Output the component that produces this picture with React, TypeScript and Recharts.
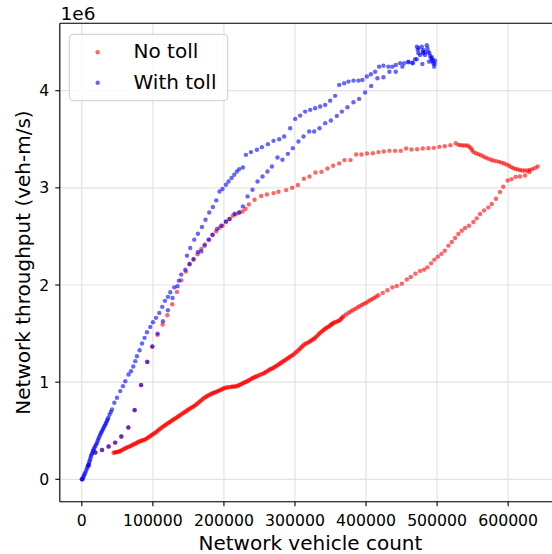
import React from 'react';
import { ScatterChart, Scatter, XAxis, YAxis, CartesianGrid } from 'recharts';

// x: network vehicle count, y: network throughput in units of 1e6 veh-m/s
const X_TICKS = [0, 100000, 200000, 300000, 400000, 500000, 600000];
const Y_TICKS = [0, 1, 2, 3, 4];

const NO_TOLL: [number, number][] = [
  // loading
  [0, 0], [9600, 0.144], [19000, 0.276], [28400, 0.301], [37700, 0.337], [46900, 0.378],
  [55600, 0.44], [65500, 0.533], [74300, 0.711], [83400, 0.969], [92100, 1.206], [99200, 1.365],
  [106600, 1.487], [113700, 1.593], [120300, 1.689], [127300, 1.802], [133900, 1.929], [140000, 2.048],
  [146500, 2.138], [151700, 2.213], [157300, 2.261], [162900, 2.316], [168100, 2.371], [173200, 2.418],
  [179300, 2.467], [184000, 2.515], [189200, 2.552], [193800, 2.59], [198100, 2.61], [202800, 2.648],
  [207900, 2.679], [212600, 2.713], [216800, 2.727], [221500, 2.747], [226200, 2.757], [230400, 2.782],
  [235100, 2.829], [243100, 2.878], [252500, 2.916], [260500, 2.932], [269800, 2.946], [276800, 2.96],
  [287600, 2.977], [296100, 3.001], [304100, 3.029], [312500, 3.094], [320400, 3.117], [328800, 3.158],
  [337300, 3.165], [345700, 3.199], [353700, 3.227], [362200, 3.251], [369600, 3.286], [378100, 3.286],
  [386100, 3.343], [393500, 3.343], [401500, 3.354], [409600, 3.357], [417500, 3.368], [425000, 3.375],
  [432900, 3.381], [440900, 3.381], [448900, 3.381], [456400, 3.405], [463900, 3.395], [471900, 3.398],
  [479900, 3.405], [487800, 3.409], [495400, 3.412], [503200, 3.422], [510800, 3.429], [518700, 3.439],
  [526300, 3.46],
  // congested
  [530000, 3.443], [533000, 3.44], [536100, 3.436], [539300, 3.437], [542600, 3.436], [545000, 3.425],
  [547400, 3.409], [549300, 3.39], [551100, 3.368], [554600, 3.356], [558100, 3.347], [561600, 3.335],
  [565100, 3.323], [568600, 3.311], [572200, 3.299], [575700, 3.29], [579200, 3.282], [583200, 3.275],
  [587200, 3.268], [590700, 3.26], [594200, 3.251], [597800, 3.24], [601300, 3.227], [604300, 3.214],
  [607300, 3.203], [610400, 3.195], [613500, 3.189], [616800, 3.183], [620000, 3.179], [623500, 3.178],
  [627000, 3.179], [630500, 3.185], [634000, 3.193], [637800, 3.205], [641600, 3.22],
  // unloading
  [629800, 3.162], [623800, 3.127], [616700, 3.117], [610700, 3.114], [605000, 3.09], [599400, 3.076],
  [593200, 3.011], [588600, 2.957], [582900, 2.888], [576900, 2.834], [572200, 2.799], [566100, 2.768],
  [560500, 2.731], [555800, 2.686], [551100, 2.648], [545000, 2.61], [539400, 2.587], [534700, 2.559],
  [530000, 2.525], [525300, 2.484], [520700, 2.443], [516000, 2.405], [510800, 2.353], [506000, 2.32],
  [501000, 2.292], [496200, 2.261], [491600, 2.223], [486400, 2.182], [481700, 2.158], [476100, 2.145],
  [469500, 2.117], [463000, 2.083], [457400, 2.056], [450400, 2.014], [443300, 1.991], [437100, 1.976],
  [430100, 1.946], [423600, 1.919], [417400, 1.894], [414400, 1.881], [411400, 1.867], [408600, 1.855],
  [405800, 1.843], [402800, 1.83], [399700, 1.816], [396900, 1.806], [394100, 1.795], [391000, 1.782],
  [387900, 1.768], [384700, 1.754], [381400, 1.74], [378400, 1.727], [375300, 1.713], [371800, 1.696],
  [368200, 1.678], [366800, 1.667], [365400, 1.656], [364000, 1.645], [362600, 1.634], [360500, 1.628],
  [358400, 1.622], [356300, 1.616], [354200, 1.61], [353000, 1.603], [351800, 1.597], [350600, 1.59],
  [349500, 1.583], [347700, 1.574], [346000, 1.566], [344200, 1.557], [342500, 1.549], [340700, 1.539],
  [339000, 1.529], [337200, 1.518], [335400, 1.508], [333600, 1.495], [331900, 1.482], [330100, 1.469],
  [328400, 1.456], [326600, 1.447], [324900, 1.439], [323100, 1.43], [321400, 1.421], [319300, 1.412],
  [317200, 1.404], [315100, 1.395], [313000, 1.387], [311200, 1.374], [309400, 1.362], [307600, 1.349],
  [305900, 1.336], [303900, 1.323], [301900, 1.31], [299900, 1.297], [297900, 1.285], [296100, 1.276],
  [294400, 1.268], [292600, 1.259], [290900, 1.251], [289100, 1.242], [287300, 1.233], [285500, 1.224],
  [283800, 1.216], [282000, 1.207], [280300, 1.199], [278500, 1.19], [276800, 1.182], [275000, 1.173],
  [273300, 1.165], [271500, 1.156], [269800, 1.148], [268000, 1.142], [266300, 1.136], [264500, 1.13],
  [262800, 1.123], [261000, 1.114], [259200, 1.106], [257400, 1.097], [255700, 1.089], [253300, 1.083],
  [251000, 1.076], [248700, 1.069], [246400, 1.062], [244600, 1.056], [242900, 1.05], [241100, 1.044],
  [239400, 1.038], [237600, 1.03], [235800, 1.022], [234000, 1.014], [232300, 1.007], [230500, 1.001],
  [228800, 0.996], [227000, 0.99], [225300, 0.984], [223500, 0.977], [221800, 0.971], [220000, 0.965],
  [218300, 0.959], [216500, 0.957], [214700, 0.956], [212900, 0.954], [211200, 0.953], [208800, 0.95],
  [206500, 0.948], [204100, 0.945], [201800, 0.942], [200000, 0.936], [198300, 0.93], [196500, 0.924],
  [194800, 0.918], [193000, 0.913], [191300, 0.908], [189500, 0.902], [187800, 0.897], [186000, 0.891],
  [184200, 0.886], [182400, 0.88], [180700, 0.874], [178900, 0.867], [177200, 0.86], [175400, 0.853],
  [173700, 0.846], [171900, 0.836], [170200, 0.826], [168400, 0.815], [166700, 0.805], [164900, 0.794],
  [163100, 0.783], [161300, 0.772], [159600, 0.761], [157800, 0.753], [156100, 0.746], [154300, 0.738],
  [152600, 0.73], [150800, 0.721], [149100, 0.713], [147300, 0.704], [145600, 0.696], [143800, 0.687],
  [142000, 0.679], [140200, 0.67], [138500, 0.661], [136700, 0.652], [135000, 0.644], [133200, 0.635],
  [131500, 0.627], [129700, 0.618], [128000, 0.61], [126200, 0.601], [124500, 0.593], [122700, 0.584],
  [120900, 0.576], [119100, 0.567], [117400, 0.558], [115600, 0.549], [113900, 0.54], [112100, 0.53],
  [110400, 0.521], [108600, 0.511], [106900, 0.501], [105100, 0.49], [103400, 0.48], [101600, 0.471],
  [99800, 0.463], [98000, 0.454], [96300, 0.445], [94500, 0.436], [92800, 0.428], [91000, 0.419],
  [89300, 0.411], [87500, 0.406], [85800, 0.402], [84000, 0.398], [82300, 0.394], [80500, 0.387],
  [78700, 0.381], [76900, 0.374], [75200, 0.367], [73400, 0.361], [71700, 0.355], [69900, 0.348],
  [68200, 0.342], [66400, 0.336], [64700, 0.331], [62900, 0.325], [61200, 0.319], [59400, 0.312],
  [57600, 0.305], [55800, 0.298], [54100, 0.291], [52500, 0.287], [51000, 0.283], [49400, 0.28],
  [47800, 0.278], [46200, 0.276], [44700, 0.274],
];

const WITH_TOLL: [number, number][] = [
  // loading
  [0, 0], [9600, 0.144], [19000, 0.276], [28400, 0.301], [37700, 0.337], [46900, 0.378],
  [55600, 0.44], [65500, 0.533], [74300, 0.713], [83400, 0.972], [92100, 1.21], [99200, 1.368],
  [106600, 1.5], [114200, 1.627], [121200, 1.74], [127700, 1.867], [134700, 1.987], [139900, 2.107],
  [145600, 2.158], [151600, 2.217], [157200, 2.268], [163400, 2.34], [168100, 2.346], [172700, 2.405],
  [178300, 2.467], [184000, 2.518], [190200, 2.576], [196200, 2.61], [202800, 2.655], [207900, 2.679],
  [214900, 2.734], [221500, 2.747], [226700, 2.809], [233200, 2.912], [240200, 2.98], [247300, 3.066],
  [254300, 3.117], [261300, 3.169], [267500, 3.22], [275400, 3.312], [282400, 3.289], [290000, 3.35],
  [297000, 3.409], [304900, 3.477], [312000, 3.528], [320000, 3.58], [327000, 3.58], [334500, 3.614],
  [342500, 3.666], [350500, 3.693], [358900, 3.741], [366000, 3.785], [373800, 3.83], [382300, 3.882],
  [390300, 3.916], [398700, 3.981], [407200, 4.049], [416000, 4.128], [424500, 4.139], [432900, 4.196],
  [441900, 4.196], [451200, 4.248], [459600, 4.293], [465300, 4.289], [469000, 4.324],
  // peak
  [471500, 4.453], [472900, 4.419], [473700, 4.385], [474000, 4.44], [476100, 4.368], [478500, 4.453],
  [479900, 4.402], [480500, 4.419], [480700, 4.385], [483100, 4.368], [483300, 4.398], [485500, 4.468],
  [486400, 4.437], [487800, 4.402], [489200, 4.385], [490200, 4.358], [491600, 4.334], [492500, 4.306],
  [492700, 4.344], [494100, 4.316], [494800, 4.283], [495800, 4.248], [496500, 4.275], [497200, 4.309],
  [488700, 4.299], [479300, 4.275],
  // unloading
  [471400, 4.324], [465800, 4.282], [459600, 4.299], [453600, 4.282], [448000, 4.282], [441900, 4.265],
  [437100, 4.248], [431500, 4.248], [424500, 4.258], [418400, 4.248], [412800, 4.196], [406800, 4.17],
  [401100, 4.146], [394900, 4.111], [389300, 4.104], [382300, 4.104], [375300, 4.094], [369200, 4.077],
  [362200, 4.06], [356500, 3.947], [349500, 3.898], [342500, 3.854], [335400, 3.837], [328400, 3.82],
  [321400, 3.803], [314300, 3.785], [307300, 3.744], [300300, 3.71], [293200, 3.614], [284800, 3.528],
  [277800, 3.501], [269800, 3.484], [261900, 3.45], [253400, 3.419], [246400, 3.392], [238000, 3.368],
  [231000, 3.34], [226700, 3.21], [221500, 3.193], [218300, 3.169], [214500, 3.135], [210700, 3.101],
  [206500, 3.066], [202800, 3.032], [198000, 2.988], [193800, 2.963], [189200, 2.871], [184500, 2.803],
  [179300, 2.747], [174100, 2.672], [169100, 2.597], [163400, 2.528], [158200, 2.467], [152600, 2.381],
  [148000, 2.302], [136700, 2.045], [130100, 1.976], [124500, 1.925], [121200, 1.878], [117000, 1.837],
  [113200, 1.775], [109000, 1.713], [104400, 1.662], [100100, 1.617], [96300, 1.569], [91700, 1.514],
  [88300, 1.456], [84700, 1.398], [81300, 1.329], [77600, 1.267], [75200, 1.216], [72400, 1.161],
  [69200, 1.113], [65800, 1.079], [61200, 1.01], [57900, 0.959], [54100, 0.908], [49500, 0.84],
  [45700, 0.788], [42500, 0.719], [40800, 0.694], [39100, 0.668], [37300, 0.634], [36300, 0.617],
  [35400, 0.599], [34200, 0.582], [33100, 0.565], [31900, 0.548], [30700, 0.531], [29500, 0.513],
  [28400, 0.496], [27200, 0.479], [26000, 0.462], [24800, 0.441], [23600, 0.421], [22500, 0.399],
  [21400, 0.377], [20200, 0.36], [19000, 0.342], [17800, 0.325], [16600, 0.308], [15700, 0.291],
  [14800, 0.274], [13800, 0.257], [12900, 0.239], [12100, 0.217], [11300, 0.195], [10400, 0.175],
  [9600, 0.154], [8400, 0.133], [7300, 0.113], [6100, 0.091], [4900, 0.069], [3800, 0.052],
  [2800, 0.036], [1900, 0.018], [1100, 0],
];

const FONT = "'DejaVu Sans', sans-serif";
const toPoints = (rows: [number, number][]) => rows.map(([x, y]) => ({ x, y }));

const dot = (color: string) => (props: any) => (
  <circle cx={props.cx} cy={props.cy} r={2.2} fill={color} fillOpacity={0.6} />
);

export default function App() {
  const axisLine = { stroke: '#000', strokeWidth: 1.1 };
  const tick = { fill: '#000', fontSize: 15.7, fontFamily: FONT };
  return (
    <div style={{ position: 'absolute', left: 0, top: 0, width: 552, height: 554, overflow: 'hidden', background: '#fff' }}>
      <ScatterChart width={570} height={554} margin={{ top: 23.3, right: 9, bottom: 0, left: 0 }}>
        <CartesianGrid stroke="#e3e3e3" strokeWidth={1.2} />
        <XAxis
          type="number"
          dataKey="x"
          domain={[-31000, 674400]}
          ticks={X_TICKS}
          interval={0}
          allowDataOverflow
          height={52.2}
          axisLine={axisLine}
          tickLine={axisLine}
          tickSize={4.5}
          tickMargin={8.8}
          tick={tick}
        />
        <YAxis
          type="number"
          dataKey="y"
          domain={[-0.2316, 4.694]}
          ticks={Y_TICKS}
          interval={0}
          allowDataOverflow
          width={59.8}
          axisLine={axisLine}
          tickLine={axisLine}
          tickSize={4.5}
          tickMargin={6}
          tick={tick}
        />
        <Scatter name="No toll" data={toPoints(NO_TOLL)} shape={dot('#ff0000')} isAnimationActive={false} />
        <Scatter name="With toll" data={toPoints(WITH_TOLL)} shape={dot('#0000ff')} isAnimationActive={false} />
      </ScatterChart>
      <svg width={552} height={554} style={{ position: 'absolute', left: 0, top: 0, pointerEvents: 'none' }}>
        <line x1={59.8} x2={552} y1={23.3} y2={23.3} stroke="#000" strokeWidth={1.1} />
        <text x={60.5} y={20} fontSize={18.5} fontFamily={FONT} fill="#000">1e6</text>
        <text x={310.4} y={550} fontSize={20} fontFamily={FONT} fill="#000" textAnchor="middle">
          Network vehicle count
        </text>
        <text
          x={0}
          y={0}
          transform="translate(29.5 262.5) rotate(-90)"
          fontSize={20}
          fontFamily={FONT}
          fill="#000"
          textAnchor="middle"
        >
          Network throughput (veh-m/s)
        </text>
        <rect x={69.3} y={34.3} width={158.4} height={66.4} rx={4} fill="#fff" fillOpacity={0.8} stroke="#cccccc" strokeWidth={1} />
        <circle cx={97.7} cy={52.3} r={2.2} fill="#ff0000" fillOpacity={0.6} />
        <circle cx={97.7} cy={82.7} r={2.2} fill="#0000ff" fillOpacity={0.6} />
        <text x={133.5} y={58.3} fontSize={20} fontFamily={FONT} fill="#000">No toll</text>
        <text x={133.5} y={89.3} fontSize={20} fontFamily={FONT} fill="#000">With toll</text>
      </svg>
    </div>
  );
}
